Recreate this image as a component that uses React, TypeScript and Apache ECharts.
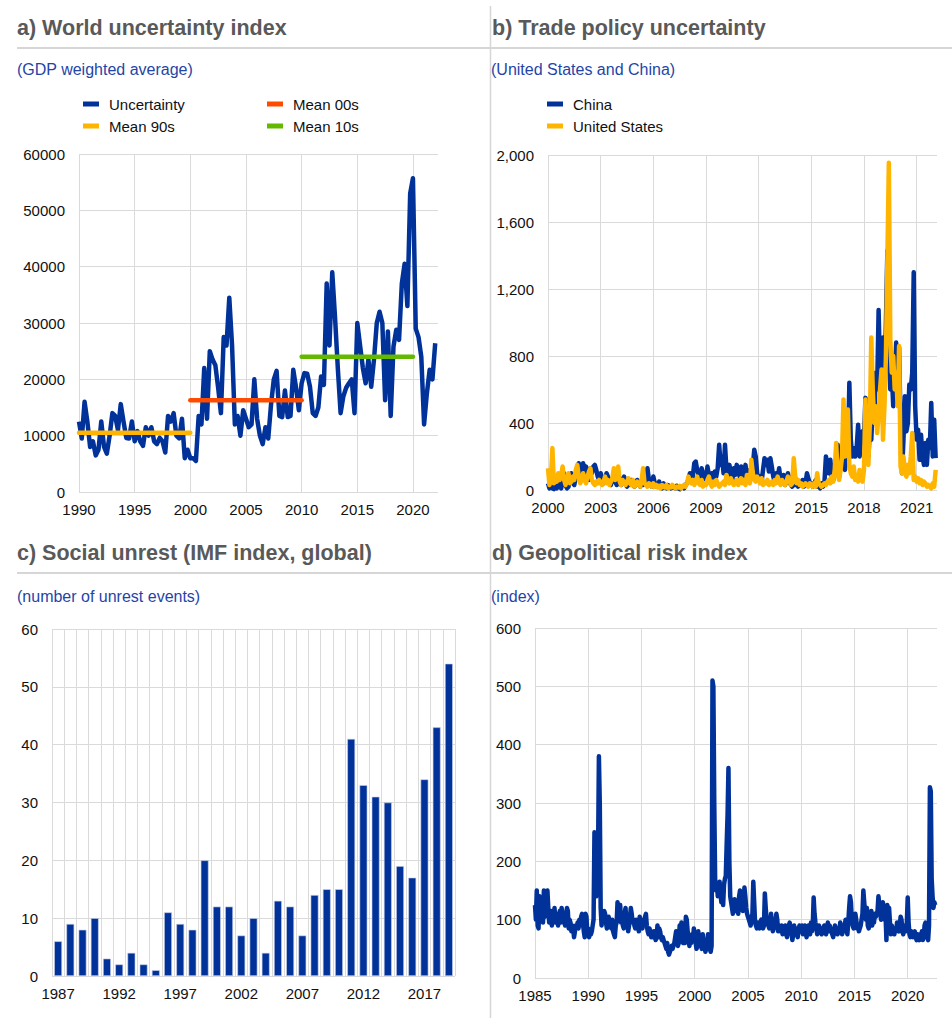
import React, { useEffect, useRef } from "react";
import * as echarts from "echarts";

const FONT = "'Liberation Sans', Arial, Helvetica, sans-serif";
const BLUE = "#003299";
const YELLOW = "#FFB400";
const RED = "#FF4B00";
const GREEN = "#65B800";
const GRID_COLOR = "#dadada";
const TITLE_COLOR = "#595959";
const SUB_COLOR = "#1f45a8";

// ---------- Panel a: World uncertainty index (quarterly, from 1990 Q1) ----------
const wuiStartYear = 1990;
const wuiQuarterly = [
  12500, 9500, 16000, 12500, 8000, 9000, 6500, 7500,
  12500, 8000, 6800, 10000, 14000, 13500, 11000, 15600,
  12500, 9600, 9500, 12500, 9000, 10800, 9000, 8200,
  11500, 10000, 11500, 9000, 8500, 9600, 9000, 7000,
  13500, 12500, 14000, 10000, 9500, 13000, 6000, 7500,
  6000, 6000, 5500, 13500, 12000, 22000, 13000, 25000,
  23500, 22500, 18500, 14000, 27500, 26000, 34500, 26000,
  12000, 13500, 10000, 14500, 13000, 11500, 12000, 20000,
  13000, 10000, 8500, 11500, 9500, 15500, 20000, 21500,
  13500, 13300, 18000, 13300, 13500, 21700, 18500, 14500,
  19300, 21100, 21000, 18700, 14000, 13500, 15000, 20500,
  19000, 37000, 26000, 39000, 31000, 22000, 14000, 17000,
  18500, 19300, 20000, 14000, 30000, 26000, 22000, 19300,
  23500, 18700, 23500, 30000, 32000, 30000, 16300, 28500,
  13500, 25800, 28800, 27000, 37000, 40500, 33000, 53000,
  55700, 29000, 27500, 24000, 12000, 17500, 21700, 20000,
  26400,
];
const meanNames = ["Mean 90s", "Mean 00s", "Mean 10s"];
const meanColors = [YELLOW, RED, GREEN];
const meanFrom = [1990, 2000, 2010];
const meanTo = [2000, 2010, 2020];
const meanValues = [10500, 16300, 24000];

// ---------- Panel b: Trade policy uncertainty (monthly, from Jan 2000) ----------
const tpuStartYear = 2000;
const tpuChina = [
  40, 10, 30, 10, 5, 20, 10, 40, 20, 10, 60, 100,
  30, 10, 20, 60, 100, 40, 30, 80, 120, 160, 140, 100,
  160, 120, 140, 90, 60, 130, 100, 140, 150, 120, 80, 60,
  100, 70, 40, 60, 100, 80, 40, 30, 60, 90, 50, 30,
  40, 70, 30, 50, 80, 40, 20, 50, 30, 60, 40, 20,
  30, 60, 40, 20, 50, 30, 80, 40, 130, 60, 30, 20,
  80, 40, 20, 30, 50, 20, 10, 40, 15, 10, 30, 20,
  10, 20, 15, 10, 25, 10, 5, 15, 20, 10, 30, 40,
  60, 100, 50, 80, 160, 170, 120, 90, 60, 130, 100, 80,
  50, 140, 90, 60, 100, 70, 110, 80, 130, 270, 150, 200,
  100, 270, 120, 80, 150, 100, 60, 130, 90, 150, 120, 80,
  140, 60, 100, 150, 80, 60, 120, 90, 140, 240, 200, 100,
  60, 80, 50, 120, 190, 150, 180, 110, 190, 140, 80, 50,
  100, 70, 130, 60, 40, 90, 30, 50, 100, 60, 30, 20,
  50, 30, 60, 20, 40, 30, 60, 20, 40, 100, 70, 40,
  40, 20, 30, 60, 20, 30, 10, 40, 20, 50, 200, 150,
  100, 180, 80, 60, 150, 100, 270, 80, 150, 200, 150, 120,
  250, 200, 640, 300, 200, 250, 200, 250, 390, 200, 300, 350,
  300, 550, 250, 200, 350, 300, 500, 400, 700, 600, 1075, 700,
  700, 910, 600, 1000, 1430, 800, 600, 700, 500, 600, 880, 700,
  850, 400, 100, 300, 560, 350, 400, 630, 600, 700, 1300, 500,
  300, 360, 180, 330, 200, 150, 280, 150, 300, 250, 520, 200,
  420, 190,
];
const tpuUS = [
  130, 30, 60, 250, 40, 80, 50, 100, 60, 90, 140, 60,
  30, 60, 100, 40, 50, 80, 60, 120, 150, 80, 40, 60,
  100, 60, 40, 80, 110, 130, 60, 40, 30, 50, 40, 60,
  40, 30, 50, 80, 40, 60, 30, 50, 70, 130, 60, 80,
  140, 50, 30, 60, 40, 30, 50, 70, 40, 30, 60, 20,
  30, 50, 40, 20, 60, 130, 40, 30, 20, 40, 30, 20,
  40, 20, 30, 15, 25, 10, 30, 20, 15, 30, 10, 20,
  15, 30, 20, 10, 20, 15, 25, 10, 20, 30, 20, 40,
  80, 50, 40, 60, 30, 50, 80, 40, 30, 60, 20, 40,
  30, 60, 80, 40, 20, 50, 30, 60, 40, 20, 30, 40,
  50, 30, 90, 60, 40, 70, 50, 30, 40, 60, 30, 50,
  70, 40, 60, 30, 90, 50, 40, 180, 100, 60, 50, 80,
  60, 40, 70, 30, 50, 40, 60, 30, 40, 50, 30, 60,
  40, 80, 50, 30, 60, 40, 30, 50, 80, 60, 30, 40,
  190, 80, 40, 60, 30, 40, 20, 30, 40, 30, 20, 40,
  30, 20, 40, 20, 100, 40, 30, 20, 30, 40, 30, 50,
  60, 40, 80, 50, 120, 280, 90, 60, 120, 200, 540, 200,
  300, 480, 150, 100, 80, 140, 60, 90, 50, 120, 80, 50,
  120, 540, 250, 150, 400, 910, 600, 400, 500, 340, 450, 600,
  720, 300, 500, 800, 1377, 1954, 900, 700, 800, 600, 700, 500,
  860, 140, 100, 200, 100, 80, 150, 100, 200, 340, 60, 80,
  50, 70, 40, 60, 30, 50, 40, 20, 30, 20, 10, 40,
  20, 120,
];

// ---------- Panel c: Social unrest (annual) ----------
const unrestYears = [
  "1987", "1988", "1989", "1990", "1991", "1992", "1993", "1994", "1995", "1996", "1997",
  "1998", "1999", "2000", "2001", "2002", "2003", "2004", "2005", "2006", "2007", "2008",
  "2009", "2010", "2011", "2012", "2013", "2014", "2015", "2016", "2017", "2018", "2019",
];
const unrestEvents = [
  6, 9, 8, 10, 3, 2, 4, 2, 1, 11, 9,
  8, 20, 12, 12, 7, 10, 4, 13, 12, 7, 14,
  15, 15, 41, 33, 31, 30, 19, 17, 34, 43, 54,
];

// ---------- Panel d: Geopolitical risk index (monthly, from Jan 1985) ----------
const gprStartYear = 1985;
const gprMonthly = [
  125, 100, 150, 90, 85, 140, 110, 100, 130, 95, 150, 105,
  110, 145, 150, 120, 95, 100, 115, 90, 105, 100, 120, 95,
  100, 105, 90, 110, 115, 95, 120, 105, 100, 95, 90, 110,
  120, 115, 85, 100, 95, 80, 90, 85, 70, 80, 90, 85,
  95, 85, 100, 90, 105, 110, 95, 80, 70, 110, 105, 75,
  85, 70, 80, 75, 80, 90, 100, 250, 245, 140, 150, 200,
  380, 300, 120, 90, 100, 95, 115, 110, 95, 85, 100, 105,
  95, 90, 85, 100, 80, 75, 70, 90, 95, 130, 110, 100,
  125, 95, 100, 90, 85, 110, 120, 95, 100, 80, 90, 105,
  120, 110, 95, 100, 90, 85, 100, 95, 90, 80, 105, 95,
  90, 85, 100, 95, 105, 110, 90, 80, 75, 85, 80, 70,
  75, 70, 80, 75, 65, 70, 90, 70, 85, 80, 70, 65,
  70, 65, 60, 55, 50, 60, 45, 40, 45, 50, 55, 50,
  55, 60, 70, 80, 75, 55, 60, 90, 70, 95, 65, 60,
  70, 60, 105, 100, 80, 65, 55, 70, 60, 75, 65, 85,
  70, 60, 50, 55, 80, 65, 60, 55, 50, 75, 60, 55,
  45, 50, 60, 75, 55, 50, 45, 55, 510, 500, 300, 170,
  150, 160, 140, 150, 165, 145, 130, 140, 125, 160, 170, 175,
  230, 280, 360, 200, 140, 130, 120, 110, 125, 135, 115, 130,
  125, 110, 140, 150, 120, 135, 115, 130, 155, 140, 120, 110,
  105, 100, 95, 90, 100, 110, 165, 130, 95, 90, 85, 95,
  90, 85, 95, 100, 90, 85, 90, 145, 120, 100, 95, 90,
  85, 90, 110, 95, 80, 85, 90, 95, 110, 100, 80, 90,
  85, 80, 90, 75, 80, 85, 90, 75, 70, 80, 90, 95,
  85, 80, 65, 75, 90, 80, 85, 75, 70, 80, 90, 85,
  80, 90, 75, 85, 90, 80, 70, 85, 90, 80, 75, 95,
  80, 90, 138, 110, 95, 85, 75, 80, 90, 85, 80, 75,
  80, 85, 90, 80, 75, 85, 95, 80, 90, 85, 80, 75,
  70, 80, 90, 85, 80, 75, 85, 80, 95, 85, 75, 80,
  85, 90, 100, 85, 75, 95, 120, 140, 130, 100, 90, 85,
  95, 110, 100, 85, 90, 80, 85, 90, 100, 110, 150, 130,
  110, 100, 120, 90, 85, 95, 100, 115, 90, 100, 95, 110,
  105, 110, 115, 140, 125, 110, 100, 120, 130, 115, 100, 110,
  65, 125, 115, 120, 95, 75, 90, 85, 80, 75, 85, 80,
  95, 85, 80, 90, 105, 100, 80, 75, 85, 90, 80, 95,
  138, 95, 75, 70, 80, 75, 70, 75, 80, 70, 65, 75,
  70, 65, 75, 70, 80, 65, 70, 90, 95, 80, 70, 65,
  90, 327, 320, 170, 140, 120, 130, 125,
];

const withCommas = (v: number) => String(v).replace(/\B(?=(\d{3})+(?!\d))/g, ",");

const labelStyle = { fontFamily: FONT, fontSize: 15, color: "#111111" };
const LINE_W = 4.5;

function valueX(gridIndex: number, min: number, max: number, interval: number) {
  return {
    gridIndex,
    type: "value",
    min,
    max,
    interval,
    axisLine: { show: false },
    axisTick: { show: false },
    splitLine: { show: true, showMaxLine: false, lineStyle: { color: GRID_COLOR, width: 1 } },
    axisLabel: { ...labelStyle, margin: 10, showMaxLabel: false, formatter: (v: number) => String(v) },
  };
}

function valueY(gridIndex: number, max: number, interval: number, formatter?: (v: number) => string) {
  return {
    gridIndex,
    type: "value",
    min: 0,
    max,
    interval,
    axisLine: { show: false },
    axisTick: { show: false },
    splitLine: { show: true, lineStyle: { color: GRID_COLOR, width: 1 } },
    axisLabel: { ...labelStyle, margin: 14, formatter: formatter || ((v: number) => String(v)) },
  };
}

const legendBase = {
  orient: "vertical",
  icon: "rect",
  padding: 0,
  itemWidth: 16,
  itemHeight: 5,
  itemGap: 4,
  selectedMode: false,
  textStyle: { fontFamily: FONT, fontSize: 15, color: "#111", lineHeight: 18, padding: [0, 0, 0, 5] },
};

function lineSeries(name: string, color: string, xi: number, yi: number, data: number[][], z = 2) {
  return {
    name,
    type: "line",
    xAxisIndex: xi,
    yAxisIndex: yi,
    data,
    showSymbol: false,
    symbol: "none",
    z,
    lineStyle: { color, width: LINE_W, join: "round" },
    itemStyle: { color },
  };
}

function buildOption() {
  const wuiData = wuiQuarterly.map((v, i) => [wuiStartYear + i / 4, v]);
  const chinaData = tpuChina.map((v, i) => [tpuStartYear + i / 12, v]);
  const usData = tpuUS.map((v, i) => [tpuStartYear + i / 12, v]);
  const gprData = gprMonthly.map((v, i) => [gprStartYear + i / 12, v]);

  const meanSeries = meanNames.map((n, k) => ({
    ...lineSeries(n, meanColors[k], 0, 0, [
      [meanFrom[k], meanValues[k]],
      [meanTo[k], meanValues[k]],
    ], 3),
    lineStyle: { color: meanColors[k], width: LINE_W, cap: "round" },
  }));

  const titleText = (x: number, y: number, text: string) => ({
    type: "text",
    x,
    y,
    style: { text, fill: TITLE_COLOR, font: `bold 21.5px ${FONT}`, textVerticalAlign: "middle" },
  });
  const subText = (x: number, y: number, text: string) => ({
    type: "text",
    x,
    y,
    style: { text, fill: SUB_COLOR, font: `16px ${FONT}`, textVerticalAlign: "middle" },
  });
  const rule = (x1: number, y1: number, x2: number, y2: number, w: number) => ({
    type: "line",
    shape: { x1, y1, x2, y2 },
    style: { stroke: "#d6d6d6", lineWidth: w },
    silent: true,
  });

  return {
    animation: false,
    backgroundColor: "#ffffff",
    textStyle: { fontFamily: FONT },
    grid: [
      { left: 79, top: 154, width: 359, height: 338 },
      { left: 548, top: 155, width: 389, height: 335 },
      { left: 52, top: 629, width: 403, height: 347 },
      { left: 535, top: 628, width: 402, height: 350 },
    ],
    xAxis: [
      valueX(0, 1990, 2022.25, 5),
      valueX(1, 2000, 2022.16, 3),
      {
        gridIndex: 2,
        type: "category",
        data: unrestYears,
        boundaryGap: true,
        axisLine: { show: false },
        axisTick: { show: false },
        splitLine: { show: true, interval: 0, lineStyle: { color: GRID_COLOR, width: 1 } },
        axisLabel: { ...labelStyle, margin: 10, interval: 4 },
      },
      valueX(3, 1985, 2022.75, 5),
    ],
    yAxis: [
      valueY(0, 60000, 10000),
      valueY(1, 2000, 400, withCommas),
      valueY(2, 60, 10),
      valueY(3, 600, 100),
    ],
    legend: [
      { ...legendBase, left: 83, top: 95, data: ["Uncertainty", "Mean 90s"] },
      { ...legendBase, left: 267, top: 95, data: ["Mean 00s", "Mean 10s"] },
      { ...legendBase, left: 547, top: 95, data: ["China", "United States"] },
    ],
    series: [
      lineSeries("Uncertainty", BLUE, 0, 0, wuiData),
      ...meanSeries,
      lineSeries("China", BLUE, 1, 1, chinaData),
      lineSeries("United States", YELLOW, 1, 1, usData, 3),
      {
        name: "Social unrest",
        type: "bar",
        xAxisIndex: 2,
        yAxisIndex: 2,
        data: unrestEvents,
        barCategoryGap: "36%",
        itemStyle: { color: BLUE, borderColor: "#c9d0ea", borderWidth: 0.6 },
      },
      lineSeries("Geopolitical risk", BLUE, 3, 3, gprData),
    ],
    graphic: [
      rule(17, 48, 952, 48, 2),
      rule(17, 573, 952, 573, 2),
      rule(490.5, 6, 490.5, 1018, 1.5),
      titleText(17, 28, "a) World uncertainty index"),
      titleText(492, 28, "b) Trade policy uncertainty"),
      titleText(17, 553, "c) Social unrest (IMF index, global)"),
      titleText(492, 553, "d) Geopolitical risk index"),
      subText(17, 69, "(GDP weighted average)"),
      subText(491, 69, "(United States and China)"),
      subText(17, 596, "(number of unrest events)"),
      subText(491, 596, "(index)"),
    ],
  };
}

export default function App() {
  const ref = useRef<HTMLDivElement>(null);
  useEffect(() => {
    if (!ref.current) return;
    const chart = echarts.init(ref.current, undefined, { renderer: "svg" });
    chart.setOption(buildOption() as any);
    return () => chart.dispose();
  }, []);
  return (
    <div
      ref={ref}
      style={{ position: "absolute", left: 0, top: 0, width: 952, height: 1023, background: "#fff" }}
    />
  );
}
